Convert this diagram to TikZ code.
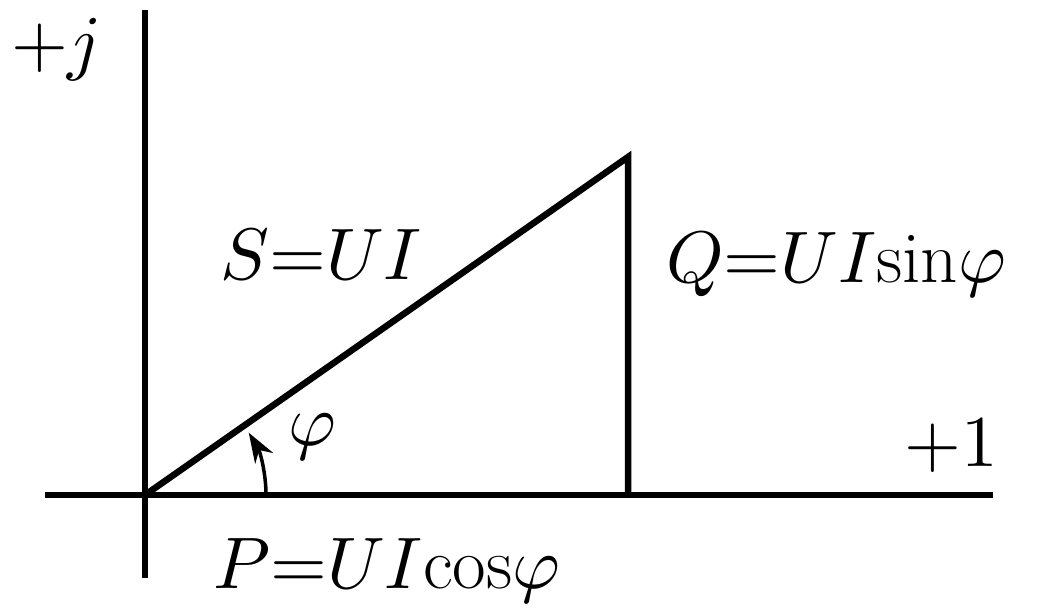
\documentclass[tikz,border=0pt]{standalone}
\usepackage{fontspec}
\usepackage{unicode-math}
\usetikzlibrary{arrows.meta}
\begin{document}
\begin{tikzpicture}[x=1pt,y=-1pt,
  axis/.style={line width=5.5pt},
  side/.style={line width=6.5pt,line join=miter},
  lbl/.style={font=\fontsize{73}{80}\selectfont,inner sep=0pt},
  anglearc/.style={line width=3.5pt,-{Stealth[length=30pt,width=21pt]}}]
\useasboundingbox (0,0) rectangle (1053,610);
\coordinate (O) at (145,495);
\coordinate (T) at (628,157);
\coordinate (B) at (628,495);
\coordinate (xl) at (45,495);
\coordinate (xr) at (993,495);
\coordinate (yt) at (145,10);
\coordinate (yb) at (145,578);
\draw[axis] (xl) -- (xr);
\draw[axis] (yt) -- (yb);
\draw[side] (O) -- (T) -- (B);
\draw[anglearc] ([shift={(121,0)}]O) arc[start angle=0,end angle=-31,radius=121];
\node[lbl] (j) at (55,50) {$+j$};
\node[lbl] (one) at (951,445) {$+1$};
\node[lbl] (S) at (321,255) {$S{=}UI$};
\node[lbl] (Q) at (836,265) {$Q{=}UI\mathrm{sin}\varphi$};
\node[lbl] (phi) at (312,437) {$\varphi$};
\node[lbl] (P) at (387,572) {$P{=}UI\mathrm{cos}\varphi$};
\end{tikzpicture}
\end{document}
